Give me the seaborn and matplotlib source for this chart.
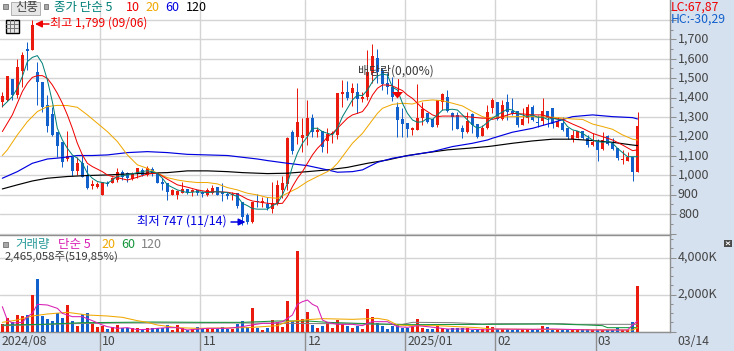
import matplotlib
matplotlib.use("Agg")
import matplotlib.pyplot as plt
from matplotlib.patches import Rectangle, Polygon
from matplotlib.transforms import ScaledTranslation
import pandas as pd
import seaborn as sns

# ---------- data ----------
opens = [1379,1388,1496,1413,1539,1648,1645,1533,1482,1362,1316,1222,1170,1083,1093,1024,1062,1002,947,942,
         901,961,959,976,1019,1014,982,1011,1028,1002,1031,1014,968,959,899,899,911,928,916,922,
         916,899,908,939,916,903,899,908,862,796,759,870,856,851,826,851,925,956,1222,1196,
         1194,1204,1295,1223,1228,1179,1211,1208,1420,1427,1422,1427,1395,1401,1525,1605,1539,1474,1453,1354,
         1290,1268,1234,1234,1297,1319,1288,1259,1379,1401,1323,1311,1242,1222,1314,1264,1203,1242,1348,1379,
         1290,1376,1333,1331,1259,1293,1350,1273,1282,1331,1345,1251,1271,1242,1186,1194,1228,1191,1156,1174,
         1134,1203,1174,1143,1079,1076,1096,1019]
highs = [1431,1511,1496,1597,1636,1688,1799,1585,1482,1413,1354,1222,1170,1228,1093,1096,1110,1054,976,968,
         966,973,994,1036,1028,1019,1019,1036,1036,1050,1045,1014,988,959,928,925,968,932,932,925,
         920,937,949,939,959,913,916,911,865,805,865,904,891,887,968,976,999,1199,1234,1448,
         1294,1388,1316,1251,1228,1242,1228,1422,1491,1485,1474,1474,1431,1645,1674,1650,1551,1525,1504,1379,
         1345,1268,1251,1470,1379,1322,1288,1388,1422,1439,1328,1328,1259,1328,1319,1264,1259,1362,1396,1379,
         1388,1419,1400,1331,1345,1367,1362,1311,1396,1331,1345,1302,1302,1242,1234,1228,1228,1208,1220,1186,
         1225,1208,1194,1143,1131,1122,1096,1324]
lows = [1354,1384,1388,1396,1453,1542,1645,1362,1328,1225,1203,1096,1045,1076,999,1002,994,930,930,934,
        901,946,959,968,976,968,976,985,997,997,997,959,925,874,899,879,908,904,894,899,
        886,896,904,899,868,879,874,831,747,750,754,839,836,822,805,848,882,925,1110,1162,
        1122,1156,1199,1199,1122,1117,1165,1186,1354,1388,1359,1319,1379,1388,1474,1474,1439,1419,1383,1199,
        1199,1199,1208,1234,1259,1268,1247,1251,1336,1328,1234,1239,1191,1220,1220,1194,1203,1237,1319,1285,
        1285,1285,1311,1251,1259,1271,1281,1251,1259,1247,1246,1251,1228,1187,1170,1194,1186,1148,1151,1074,
        1131,1156,1131,1079,1059,1074,971,1019]
closes = [1408,1511,1413,1556,1619,1641,1773,1482,1354,1254,1208,1153,1067,1100,1024,1062,994,937,954,954,
          966,956,985,1019,994,985,1007,1036,1002,1040,1006,959,954,916,922,920,930,916,925,911,
          903,925,934,899,903,896,904,844,784,759,865,862,868,831,856,951,959,1194,1127,1273,
          1208,1295,1225,1234,1148,1213,1216,1422,1427,1396,1448,1393,1401,1533,1614,1533,1470,1453,1405,1285,
          1264,1239,1242,1297,1342,1276,1251,1388,1417,1333,1302,1239,1222,1282,1259,1199,1242,1324,1388,1288,
          1362,1328,1314,1259,1290,1350,1285,1268,1331,1293,1263,1282,1234,1196,1208,1228,1194,1156,1170,1131,
          1182,1162,1136,1088,1084,1096,1019,1254]
volumes_k = [396,720,504,900,846,900,1980,2844,846,684,576,990,756,1440,576,306,936,1008,414,270,
             306,144,270,360,216,180,216,180,108,180,180,180,180,360,90,360,180,90,126,252,
             144,126,144,126,252,144,144,396,576,270,1278,198,90,198,630,504,270,1656,576,4356,
             684,1062,360,198,306,504,198,630,396,306,198,324,144,1224,792,450,306,144,306,396,
             216,216,252,684,216,144,144,306,180,144,180,180,180,216,90,108,144,306,252,144,
             162,144,90,144,144,144,144,90,306,252,126,126,126,126,126,126,126,126,90,90,
             90,90,90,216,90,90,504,2465]

ma5_i = [0,1,2,3,4,5,6,7,8,9,10,11,12,13,14,15,16,17,18,19,20,21,22,23,25,27,29,31,32,33,35,37,39,41,43,45,47,48,
         49,50,51,53,54,55,56,57,58,59,60,61,62,63,64,66,67,68,69,70,71,72,73,74,75,76,77,78,79,80,81,82,83,84,85,86,87,88,90,91,92,93,94,95,96,97,
         98,99,101,102,103,104,105,106,107,108,109,110,111,112,113,114,115,116,117,118,119,120,121,122,123,124,125,126,127]
ma5_v = [1354,1379,1405,1448,1508,1585,1607,1616,1576,1491,1379,1242,1182,1139,1105,1088,1062,1011,985,968,963,959,976,994,1002,1014,1024,1011,985,951,925,911,916,911,916,911,891,856,
         844,829,826,826,844,856,899,959,1045,1114,1165,1199,1242,1242,1225,1208,1242,1302,1345,1388,1413,1410,1439,1482,1511,1521,1516,1453,1439,1371,1319,1285,1273,1276,1294,1288,1311,1336,1340,1336,1311,1285,1259,1242,1251,1273,
         1294,1311,1341,1336,1319,1311,1302,1311,1299,1299,1288,1294,1288,1285,1251,1234,1228,1216,1199,1182,1174,1170,1174,1165,1139,1117,1096,1096,1096]
ma10_i = [0,1,2,3,4,5,6,7,8,9,10,11,12,13,14,15,16,17,18,20,21,22,23,25,27,29,31,33,35,37,39,41,43,45,47,48,
          49,50,52,54,56,57,58,59,60,61,62,63,64,65,66,67,68,69,70,71,72,73,74,75,76,77,78,79,80,81,82,83,84,85,86,87,88,90,92,94,96,97,
          98,100,102,104,106,108,110,112,114,116,118,120,122,124,126,127]
ma10_v = [1225,1268,1311,1371,1431,1474,1504,1513,1513,1499,1465,1422,1371,1311,1242,1165,1105,1062,1045,1019,1002,994,988,976,990,1007,1011,980,951,939,925,916,916,913,904,891,
          877,868,860,853,856,891,942,985,1019,1062,1105,1139,1165,1199,1216,1242,1268,1294,1311,1319,1328,1362,1413,1448,1465,1465,1460,1448,1436,1413,1396,1371,1345,1328,1311,1302,1305,1305,1305,1299,1294,1294,
          1288,1302,1319,1316,1311,1311,1294,1288,1264,1242,1216,1199,1182,1156,1127,1131]
ma20_i = [0,1,3,5,7,9,11,13,15,17,19,21,23,25,27,29,31,33,35,37,39,41,43,45,47,48,
          49,51,53,55,57,59,61,63,65,66,67,68,69,70,72,74,75,76,78,80,82,84,86,88,90,92,94,96,97,
          98,102,106,110,114,116,118,120,122,124,126,127]
ma20_v = [1102,1131,1208,1276,1328,1354,1360,1359,1350,1311,1268,1225,1174,1105,1054,1036,1011,988,976,968,963,963,956,937,925,916,
          908,899,886,882,908,934,968,994,1019,1036,1062,1096,1131,1165,1216,1285,1319,1345,1365,1371,1367,1383,1388,1384,1371,1357,1328,1302,1294,
          1299,1302,1302,1299,1290,1288,1264,1251,1237,1208,1186,1182]
ma60_i = [0,3,6,9,12,15,18,21,25,29,33,37,41,45,48,51,53,57,61,65,67,70,72,75,78,82,86,90,94,97,98,102,106,110,114,118,122,126,127]
ma60_v = [985,1019,1062,1084,1091,1102,1102,1105,1117,1122,1117,1108,1105,1102,1093,1084,1076,1062,1050,1028,1016,1019,1028,1067,1088,1105,1122,1148,1165,1182,1191,1222,1242,1271,1302,1311,1302,1297,1290]
ma120_i = [0,3,6,9,13,17,21,25,29,33,37,41,45,48,53,57,61,65,69,73,77,81,85,89,93,97,98,102,106,110,114,118,122,126,127]
ma120_v = [930,951,971,985,994,999,1002,1007,1011,1014,1023,1023,1019,1014,1009,1011,1019,1028,1041,1062,1079,1102,1117,1131,1139,1148,1151,1165,1177,1186,1186,1179,1170,1156,1153]

vma5_i = [0,1,2,4,5,6,7,9,11,12,14,16,18,20,21,23,25,27,29,31,33,35,37,41,45,48,49,52,54,56,57,58,59,60,61,62,63,64,65,67,70,72,73,74,77,79,81,83,85,89,93,97,98,106,110,118,125,126,127]
vma5_v = [1350,630,468,504,810,990,1476,1440,1260,990,810,810,594,360,270,180,216,108,126,180,216,216,90,180,180,270,324,450,450,540,720,900,1476,1620,1710,1476,1350,630,504,396,396,324,450,540,540,270,234,324,270,144,144,90,144,126,144,90,90,360,576]
vma20_i = [0,3,6,9,13,17,21,24,27,29,31,35,39,48,49,55,57,61,64,70,75,77,79,82,87,95,98,106,126,127]
vma20_v = [504,630,846,954,1044,900,846,774,594,504,360,216,180,216,216,324,540,648,702,666,720,630,360,324,324,216,144,126,90,216]
vma60_i = [0,8,16,24,30,40,48,55,61,65,75,81,97,98,110,117,120,121,126,127]
vma60_v = [360,396,486,504,522,504,504,576,576,504,414,378,396,396,414,360,324,216,216,216]
vma120_i = [0,5,14,24,48,65,80,82,90,96,98,112,115,126,127]
vma120_v = [324,360,432,468,468,432,396,504,486,414,432,432,396,396,396]

month_ticks = [19.6, 39.6, 60.6, 80.6, 98.6, 118.6]
month_labels = ["10", "11", "12", "2025/01", "02", "03"]
price_ticks = [800, 900, 1000, 1100, 1200, 1300, 1400, 1500, 1600, 1700]
price_grid = [700, 800, 900, 1000, 1100, 1200, 1300, 1400, 1500, 1600, 1700, 1800]
vol_ticks = [0, 2000, 4000]
vol_labels = ["", "2,000K", "4,000K"]

# ---------- style ----------
RED, BLUE = "#ea1a0e", "#1160cc"
GRID, EDGE, TXT = "#d4d4d4", "#8f8f8f", "#444444"
sns.set_theme(style="white")
plt.rcParams["font.family"] = ["Noto Sans CJK KR", "DejaVu Sans"]
plt.rcParams["axes.unicode_minus"] = False

W, H = 734, 351
fig = plt.figure(figsize=(W / 100, H / 100), dpi=100, facecolor="#d6e1ef")


def rect(x0, y0, x1, y1):
    return [x0 / W, 1 - y1 / H, (x1 - x0) / W, (y1 - y0) / H]


x_lim = (-0.466, 133.39)
ax = fig.add_axes(rect(0, 0, 669.5, 235), facecolor="white")
av = fig.add_axes(rect(0, 235, 669.5, 332), facecolor="white")

df = pd.DataFrame({"i": range(len(opens)), "o": opens, "h": highs, "l": lows, "c": closes, "v": volumes_k})
df["dir"] = ["up" if c >= o else "down" for o, c in zip(df.o, df.c)]
pal = {"up": RED, "down": BLUE}

# ---------- price panel ----------
cols = df["dir"].map(pal)
ax.vlines(df.i, df.l, df.h, colors=cols, linewidth=0.72, zorder=2, snap=True)
ax.bar(df.i, (df.c - df.o).abs().clip(lower=4), bottom=df[["o", "c"]].min(axis=1), width=0.66,
       color=cols, linewidth=0, zorder=3, antialiased=False)
for xs, ys, c, lw in [(ma120_i, ma120_v, "black", 0.85), (ma60_i, ma60_v, "#0000e0", 0.85),
                      (ma20_i, ma20_v, "#f0a800", 0.72), (ma10_i, ma10_v, "#f00000", 0.72),
                      (ma5_i, ma5_v, "#008078", 0.72)]:
    sns.lineplot(x=xs, y=ys, ax=ax, color=c, linewidth=lw, estimator=None, zorder=4)
ax.set_xlim(*x_lim)
ax.set_ylim(693, 1902.2)
ax.set_xticks(month_ticks)
ax.set_xticklabels([])
ax.tick_params(axis="x", length=0)
ax.yaxis.tick_right()
ax.set_yticks(price_grid)
ax.set_yticklabels([f"{t:,}" if t in price_ticks else "" for t in price_grid], fontsize=9, color=TXT)
ax.set_yticks([p + 50 for p in price_grid], minor=True)
ax.tick_params(axis="y", which="major", length=4.3, width=0.75, color=EDGE, pad=1.8, right=True)
ax.tick_params(axis="y", which="minor", length=2, width=0.75, color=EDGE, right=True)
ax.grid(True, color=GRID, linewidth=1.0)
ax.set_axisbelow(True)
ax.set_xlabel("")
ax.set_ylabel("")
for s in ["top", "left", "bottom"]:
    ax.spines[s].set_visible(False)
ax.spines["right"].set_color(EDGE)
ax.spines["right"].set_linewidth(1.0)

# ---------- volume panel ----------
sns.barplot(data=df, x="i", y="v", hue="dir", palette=pal, native_scale=True, dodge=False, width=0.66,
            saturation=1, linewidth=0, legend=False, errorbar=None, ax=av, zorder=3, antialiased=False)
for xs, ys, c in [(vma120_i, vma120_v, "#808080"), (vma60_i, vma60_v, "#14963c"),
                  (vma20_i, vma20_v, "#f0a800"), (vma5_i, vma5_v, "#d81eb4")]:
    sns.lineplot(x=xs, y=ys, ax=av, color=c, linewidth=0.75, estimator=None, zorder=4)
av.set_xlim(*x_lim)
av.set_ylim(-18, 5220)
av.set_xticks(month_ticks)
av.set_xticklabels(month_labels, fontsize=8.8, color=TXT, ha="left")
av.tick_params(axis="x", length=13.7, width=1.0, color=EDGE, pad=-11.2, bottom=True)
shift = ScaledTranslation(2 / 100, 0, fig.dpi_scale_trans)
for lab in av.get_xticklabels():
    lab.set_transform(lab.get_transform() + shift)
av.yaxis.tick_right()
av.set_yticks(vol_ticks)
av.set_yticklabels(vol_labels, fontsize=9, color=TXT)
av.set_yticks([500 * k for k in range(11)], minor=True)
av.tick_params(axis="y", which="major", length=4.3, width=0.75, color=EDGE, pad=1.8, right=True)
av.tick_params(axis="y", which="minor", length=2, width=0.75, color=EDGE, right=True)
av.grid(True, color=GRID, linewidth=1.0)
av.set_axisbelow(True)
av.set_xlabel("")
av.set_ylabel("")
av.spines["left"].set_visible(False)
for s in ["top", "bottom", "right"]:
    av.spines[s].set_color(EDGE)
    av.spines[s].set_linewidth(1.0)
lift = ScaledTranslation(0, 1.5 / 100, fig.dpi_scale_trans)
for a in (ax, av):
    for lab in a.get_yticklabels():
        lab.set_transform(lab.get_transform() + lift)

# ---------- pixel-positioned overlay (headers, annotations) ----------
ov = fig.add_axes([0, 0, 1, 1], facecolor="none")
ov.set_xlim(0, W)
ov.set_ylim(H, 0)
ov.axis("off")


def label(x, y, s, color, size=9, **kw):
    ov.text(x, y, s, color=color, fontsize=size, va="center", ha=kw.pop("ha", "left"), **kw)


def box(x0, y0, x1, y1, fc, ec="none", lw=0.0):
    ov.add_patch(Rectangle((x0, y0), x1 - x0, y1 - y0, facecolor=fc, edgecolor=ec, linewidth=lw))


# top legend
box(3, 4, 7.5, 9, "#a8a8a8", "#707070", 0.6)
box(10.5, 1.5, 39.5, 15, "#e6e6e6", "#b0b0b0", 0.7)
label(15, 8, "신풍", TXT)
box(43.5, 4, 48, 9, "#a8a8a8", "#707070", 0.6)
label(54.5, 7.5, "종가 단순 5", "#008078")
label(126, 7.5, "10", "#f00000")
label(145, 7.5, "20", "#f0a800")
label(165, 7.5, "60", "#0000e0")
label(186, 7.5, "120", "black")

# layout icon
box(5.5, 19.5, 18.5, 32.5, "#e6e6e6", "black", 1.0)
for p in (9.5, 13.5):
    ov.plot([p, p], [20, 32], color="#777777", lw=0.7)
for p in (23.5, 27.5):
    ov.plot([6, 18], [p, p], color="#777777", lw=0.7)

# high / low callouts
ov.annotate("", xy=(35, 24), xytext=(49, 24),
            arrowprops=dict(arrowstyle="-|>", color="#f00000", lw=1.1, mutation_scale=10, shrinkA=0, shrinkB=0))
label(50, 23, "최고 1,799 (09/06)", "#f00000", size=8.7)
ov.annotate("", xy=(245.5, 222), xytext=(231, 222),
            arrowprops=dict(arrowstyle="-|>", color="#0000e0", lw=1.1, mutation_scale=10, shrinkA=0, shrinkB=0))
label(137, 221, "최저 747 (11/14)", "#0000e0", size=8.9)

# ex-dividend marker
ov.plot([397.5, 397.5], [79, 93], color="#f00000", lw=0.75)
ov.add_patch(Polygon([[392, 92], [403, 92], [397.5, 98.5]], closed=True, facecolor="#f00000", edgecolor="none"))
label(358, 71, "배당락(0,00%)", "#3a3a3a", size=8.6)

# right header
label(671, 7, "LC:67,87", "#f00000", size=8.8)
label(671, 19, "HC:-30,29", "#1160cc", size=8.8)

# volume header
box(3, 242, 7.5, 247, "#a8a8a8", "#707070", 0.6)
label(15, 244.5, "거래량", "#2a9a9a")
label(58, 244.5, "단순 5", "#d81eb4")
label(101, 244.5, "20", "#f0a800")
label(121, 244.5, "60", "#14963c")
label(141, 244.5, "120", "#808080")
label(5, 257, "2,465,058주(519,85%)", "#3a3a3a", size=8.2)
box(724, 240, 732, 246.5, "#4a4a4a")
ov.plot([726.2, 729.8], [241.8, 244.8], color="white", lw=0.7)
ov.plot([726.2, 729.8], [244.8, 241.8], color="white", lw=0.7)

# date strip labels not tied to a month boundary
label(2, 341.5, "2024/08", TXT, size=8.8)
label(677.5, 341.5, "03/14", TXT, size=8.8)

fig.savefig("out.png", dpi=100, facecolor=fig.get_facecolor())
